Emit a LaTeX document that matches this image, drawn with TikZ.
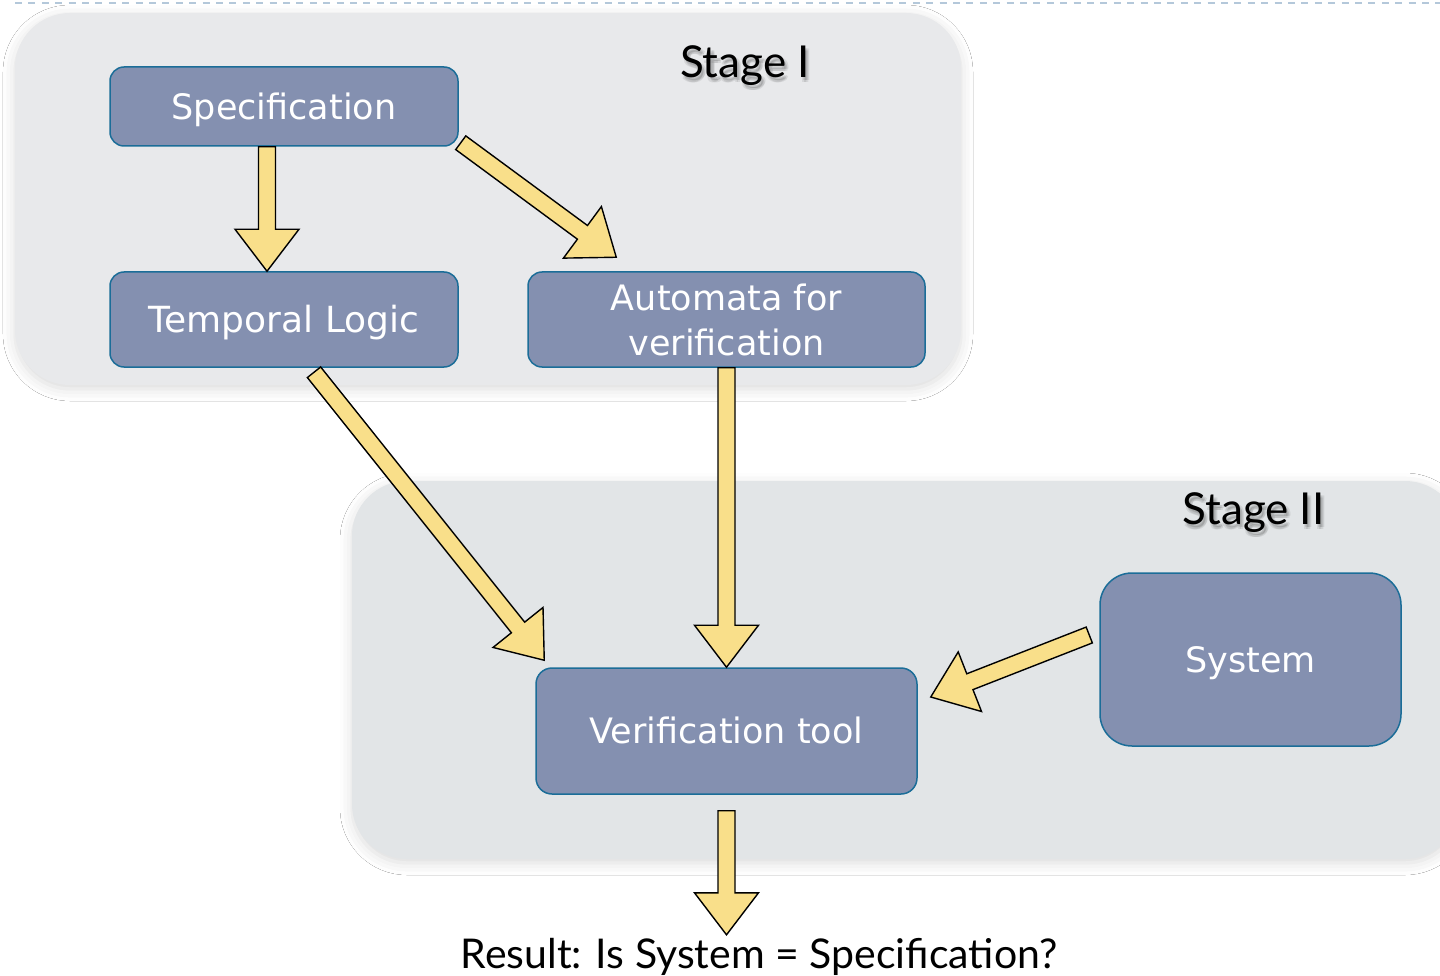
\documentclass[tikz,border=0pt]{standalone}
\usepackage{fontspec}
\usetikzlibrary{calc,shadows.blur}
\newfontfamily\boxfont{DejaVu Sans}
\newfontfamily\stagefont{Lato}

\definecolor{panelA}{HTML}{E8E9EB}
\definecolor{panelB}{HTML}{E2E5E7}
\definecolor{boxfill}{HTML}{8490B0}
\definecolor{boxedge}{HTML}{1B6D98}
\definecolor{arrowfill}{HTML}{F9DF8A}
\definecolor{dashcol}{HTML}{B4C8DA}

% block-arrow geometry
\def\sw{8.5pt}  % half shaft width
\def\hw{32pt}   % half head width
\def\hl{42pt}   % head length

\tikzset{
  panel/.style={fill=#1, draw=none, rounded corners=55pt,
    blur shadow={shadow xshift=0pt, shadow yshift=-4pt,
      shadow blur radius=12pt, shadow opacity=14}},
  stepbox/.style={draw=boxedge, fill=boxfill, line width=1.5pt,
    rounded corners=14pt, text=white, inner sep=0pt,
    font=\boxfont\fontsize{35}{45}\selectfont},
  oneline/.style={text height=25.5pt, text depth=0pt},
  stagelabel/.style={font=\stagefont\fontsize{44}{48}\selectfont,
    inner sep=0pt, text height=32pt, text depth=0pt},
  stageshadow/.style={stagelabel, text=black, opacity=0.08},
  blockarrow/.style={draw=black, line width=1.4pt, fill=arrowfill,
    line join=miter, to path={
      ($(\tikztostart)!\sw!90:(\tikztotarget)$)
      -- ($(\tikztotarget)!\hl!(\tikztostart)!\sw!90:(\tikztotarget)$)
      -- ($(\tikztotarget)!\hl!(\tikztostart)!\hw!90:(\tikztotarget)$)
      -- (\tikztotarget)
      -- ($(\tikztotarget)!\hl!(\tikztostart)!\hw!-90:(\tikztotarget)$)
      -- ($(\tikztotarget)!\hl!(\tikztostart)!\sw!-90:(\tikztotarget)$)
      -- ($(\tikztostart)!\sw!-90:(\tikztotarget)$)
      -- cycle}},
}

\begin{document}
\begin{tikzpicture}[x=1pt, y=-1pt]
  \useasboundingbox (0,0) rectangle (1440,976);
  \fill[white] (0,0) rectangle (1440,976);

  % dashed rule along the top
  \draw[dashcol, line width=2pt, dash pattern=on 7pt off 6.4pt] (15,3) -- (1440,3);

  % stage panels
  \path[panel=panelA] (15,13) rectangle (961,385);
  \path[panel=panelB] (352,481) rectangle (1460,859);

  % stage titles with a soft drop shadow
  \foreach \dx/\dy in {2/3,3/5,1/5,4/3}{
    \node[stageshadow] at (745+\dx,61.5+\dy) {Stage I};
    \node[stageshadow] at (1253.5+\dx,508.5+\dy) {Stage II};
  }
  \node[stagelabel] (stage1) at (745,61.5) {Stage I};
  \node[stagelabel] (stage2) at (1253.5,508.5) {Stage II};

  % boxes
  \node[stepbox, oneline, minimum width=348pt, minimum height=79pt]
    (spec) at (284,106.5) {Specification};
  \node[stepbox, oneline, minimum width=348pt, minimum height=95pt,
        font=\boxfont\fontsize{36}{45}\selectfont]
    (tl) at (284,319.5) {Temporal Logic};
  \node[stepbox, align=center, minimum width=397pt, minimum height=95pt]
    (auto) at (726.5,319.5) {Automata for\\verification};
  \node[stepbox, oneline, minimum width=381pt, minimum height=126pt, rounded corners=16pt]
    (verif) at (726.5,731) {Verification tool};
  \node[stepbox, oneline, minimum width=301pt, minimum height=173pt, rounded corners=32pt]
    (sys) at (1250.5,659.5) {System};

  % result line
  \node[font=\stagefont\fontsize{41}{46}\selectfont, inner sep=0pt,
        text height=30pt, text depth=0pt] (result) at (759,953)
    {Result: Is System = Specification?};

  % block arrows
  \draw[blockarrow] ([xshift=-17pt]spec.south) to ([xshift=-17pt]tl.north);
  \draw[blockarrow] ([xshift=2pt,yshift=4pt]spec.south east)
                    to ([xshift=89pt,yshift=14pt]auto.north west);
  \draw[blockarrow] ([xshift=30pt,yshift=-4.5pt]tl.south)
                    to ([xshift=9pt,yshift=7pt]verif.north west);
  \draw[blockarrow] (auto.south) to (verif.north);
  \draw[blockarrow] ([xshift=-10pt,yshift=24.5pt]sys.west)
                    to ([xshift=13pt,yshift=34pt]verif.east);
  \draw[blockarrow] ([yshift=-16pt]verif.south)
                    to ([yshift=3pt]verif.south |- result.north);
\end{tikzpicture}
\end{document}
